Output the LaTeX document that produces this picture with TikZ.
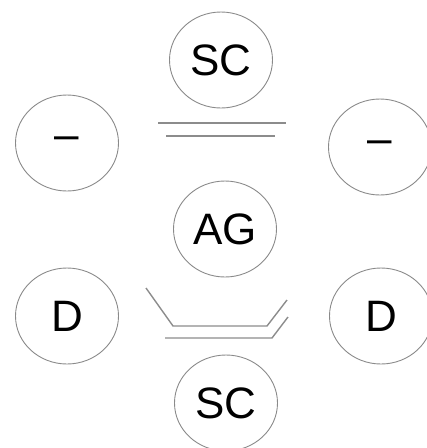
\documentclass[tikz,border=0pt]{standalone}
\usepackage{fontspec}
\setmainfont{Liberation Sans}
\usepackage{tikz}
\usetikzlibrary{shapes.geometric, positioning, calc}
\definecolor{ringgray}{HTML}{8A8A8A}
\definecolor{bondgray}{HTML}{8C8C8C}

\begin{document}
\begin{tikzpicture}[x=1pt, y=-1pt,
  ring/.style={ellipse, draw=ringgray, line width=0.9pt, minimum width=103pt, minimum height=96pt,
    inner sep=0pt, font=\fontsize{44}{50}\selectfont},
  bond/.style={draw=bondgray, line width=1.4pt}
]
  \useasboundingbox (0,0) rectangle (427,448);

  \node[ring] (sctop) at (221, 60) {SC};
  \node[ring] (minusl) at (67, 143) {–};
  \node[ring] (minusr) at (380, 147) {–};
  \node[ring] (ag) at (225, 229) {AG};
  \node[ring] (dl) at (67, 316) {D};
  \node[ring] (dr) at (381, 316) {D};
  \node[ring] (scbot) at (226, 403) {SC};

  % double line under the top SC
  \draw[bond] (158, 123) -- (286, 123);
  \draw[bond] (166, 136) -- (275, 136);

  % trough under AG
  \draw[bond] (146, 288) -- (173, 326) -- (267, 326) -- (287, 300);
  \draw[bond] (165, 338) -- (272, 338) -- (288, 317);
\end{tikzpicture}
\end{document}
